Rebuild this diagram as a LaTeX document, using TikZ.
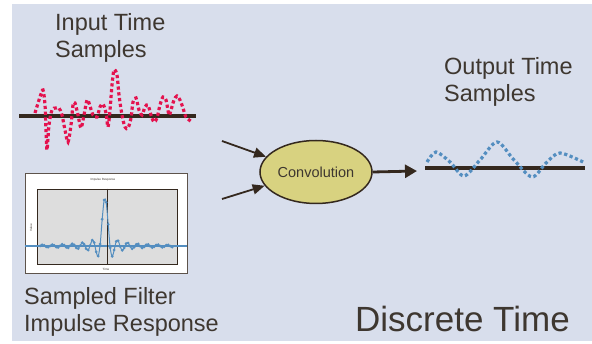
\documentclass[tikz,border=0pt]{standalone}
\usepackage{fontspec}
\setmainfont{Liberation Sans}
\usetikzlibrary{arrows.meta,shapes.geometric}
\definecolor{dtback}{RGB}{216,222,236}
\definecolor{dtink}{RGB}{62,55,48}
\definecolor{dtaxis}{RGB}{52,40,30}
\definecolor{dtred}{RGB}{228,18,78}
\definecolor{dtblue}{RGB}{84,142,192}
\definecolor{dtyellow}{RGB}{216,210,128}
\definecolor{dtplot}{RGB}{221,221,221}

\begin{document}
\begin{tikzpicture}[x=1pt, y=-1pt,
    caption/.style={anchor=north west, inner sep=0pt, align=left, text=dtink, font=\fontsize{23.5}{27}\selectfont},
    axisline/.style={draw=dtaxis, line width=4.5pt},
    dotwave/.style={line width=3.2pt, dash pattern=on 3.2pt off 2.6pt, smooth},
    flow/.style={draw=dtaxis, line width=1.8pt, -{Triangle[length=12pt,width=10pt]}},
    chartlabel/.style={font=\fontsize{3}{3}\selectfont, text=dtink, inner sep=0pt}
  ]
  \useasboundingbox (0,0) rectangle (592,344);
  \fill[dtback] (12,4) rectangle (592,341);

  \node[caption] (inlabel) at (55,13) {Input Time\\Samples};
  \node[caption] (outlabel) at (444,57) {Output Time\\Samples};
  \node[caption] (filterlabel) at (24,287) {Sampled Filter\\Impulse Response};
  \node[anchor=north west, inner sep=0pt, text=dtink, font=\fontsize{35}{40}\selectfont] (title) at (355,306) {Discrete Time};

  \draw[axisline] (19,116) -- (196,116);
  \draw[dotwave, dtred] plot coordinates {(35,113) (40,97) (43,90) (45,105) (46,130) (47,150) (49,125) (52,110) (56,108) (59,108) (62,115) (65,130) (68,142) (71,125) (73,105) (75,103) (78,115) (81,128) (84,115) (87,100) (89,103) (93,115) (97,117) (100,107) (103,104) (106,113) (108,127) (110,110) (112,85) (114,70) (117,75) (119,95) (122,115) (125,127) (128,128) (131,118) (133,102) (136,98) (139,110) (142,115) (145,107) (148,105) (151,115) (154,122) (157,118) (160,105) (163,97) (166,100) (169,115) (171,110) (174,100) (177,96) (180,100) (183,108) (186,117) (192,122)};

  \node[draw=dtaxis!80, fill=white, line width=0.8pt, minimum width=162pt, minimum height=100pt, inner sep=0pt] (chart) at (106,223) {};
  \node[draw=dtaxis, fill=dtplot, line width=0.6pt, minimum width=140pt, minimum height=75pt, inner sep=0pt] (plotarea) at (107,226.5) {};
  \draw[dtblue, line width=1.2pt] (chart.west |- 0,246) -- (chart.east |- 0,246);
  \draw[dtaxis, line width=0.6pt] (plotarea.north -| 107,0) -- (plotarea.south -| 107,0);
  \draw[dtblue, line width=1pt, mark=*, mark size=0.8pt] plot[smooth, domain=40.2:172.2, samples=67] (\x, {246-48*sin(36*(\x-105))/(pi*(\x-105)/5)});
  \node[chartlabel] (charttitle) at (103,180) {Impulse Response};
  \node[chartlabel, rotate=90] (valuelabel) at (31,228) {Value};
  \node[chartlabel] (timelabel) at (106,269) {Time};

  \node[ellipse, draw=dtaxis, fill=dtyellow, line width=1.5pt, minimum width=112pt, minimum height=63pt, inner sep=0pt, text=dtink, font=\fontsize{14.5}{16}\selectfont] (conv) at (316,172) {Convolution};

  \coordinate (infrom) at (222,141);
  \coordinate (filterfrom) at (222,199);
  \coordinate (outto) at (417,171);
  \draw[flow] (infrom) -- (conv.163);
  \draw[flow] (filterfrom) -- (conv.195);
  \draw[flow, line width=2.8pt, -{Triangle[length=12pt,width=13pt]}] (conv.east) -- (outto);

  \draw[axisline] (425,168) -- (585,168);
  \draw[dotwave, dtblue] plot coordinates {(427,162) (436,152) (450,162) (464,176) (480,160) (497,142) (514,160) (532,177) (546,163) (560,153) (585,163)};
\end{tikzpicture}
\end{document}
